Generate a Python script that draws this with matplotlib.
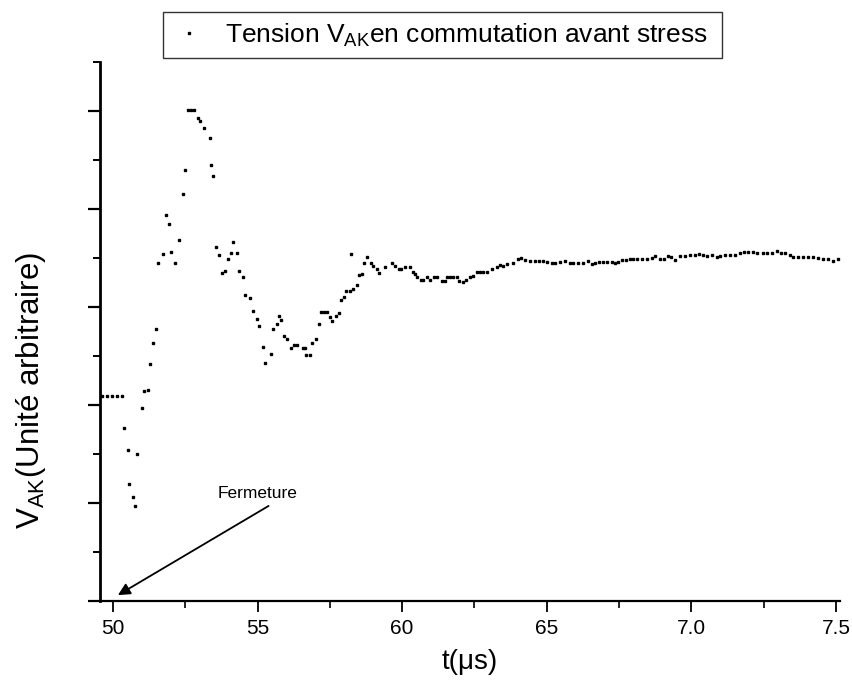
import matplotlib
matplotlib.use("Agg")
import matplotlib.pyplot as plt
from matplotlib.ticker import MultipleLocator, FixedLocator, FixedFormatter

plt.rcParams['font.family'] = ['Liberation Sans', 'DejaVu Sans']

# time (µs) and V_AK (arbitrary units)
t_us = [4.962, 4.979, 4.997, 5.014, 5.031, 5.038, 5.052, 5.055, 5.069, 5.076,
        5.083, 5.100, 5.107, 5.121, 5.128, 5.138, 5.149, 5.156, 5.173, 5.183,
        5.194, 5.201, 5.214, 5.228, 5.242, 5.249, 5.259, 5.270, 5.280, 5.294,
        5.301, 5.315, 5.335, 5.339, 5.346, 5.356, 5.367, 5.377, 5.387, 5.398,
        5.408, 5.415, 5.429, 5.436, 5.450, 5.456, 5.474, 5.484, 5.498, 5.505,
        5.519, 5.526, 5.546, 5.553, 5.567, 5.574, 5.581, 5.591, 5.602, 5.616,
        5.626, 5.636, 5.657, 5.664, 5.667, 5.681, 5.688, 5.702, 5.712, 5.719,
        5.730, 5.740, 5.750, 5.757, 5.771, 5.782, 5.788, 5.799, 5.806, 5.820,
        5.823, 5.830, 5.844, 5.851, 5.861, 5.868, 5.878, 5.892, 5.899, 5.913,
        5.920, 5.941, 5.965, 5.975, 5.989, 5.996, 6.010, 6.027, 6.037, 6.044,
        6.051, 6.065, 6.072, 6.086, 6.096, 6.110, 6.120, 6.138, 6.148, 6.155,
        6.165, 6.176, 6.190, 6.196, 6.210, 6.221, 6.235, 6.245, 6.259, 6.269,
        6.279, 6.293, 6.311, 6.328, 6.338, 6.349, 6.362, 6.383, 6.400, 6.411,
        6.425, 6.442, 6.459, 6.473, 6.487, 6.501, 6.518, 6.528, 6.546, 6.563,
        6.580, 6.591, 6.608, 6.625, 6.643, 6.656, 6.667, 6.681, 6.694, 6.708,
        6.726, 6.736, 6.746, 6.760, 6.774, 6.788, 6.798, 6.812, 6.829, 6.847,
        6.864, 6.874, 6.892, 6.905, 6.919, 6.930, 6.943, 6.961, 6.978, 6.995,
        7.013, 7.026, 7.040, 7.054, 7.071, 7.089, 7.099, 7.116, 7.134, 7.151,
        7.168, 7.182, 7.196, 7.213, 7.227, 7.248, 7.262, 7.279, 7.296, 7.310,
        7.324, 7.341, 7.352, 7.369, 7.386, 7.403, 7.421, 7.438, 7.455, 7.473,
        7.490, 7.507]
v_ak = [2.09, 2.09, 2.09, 2.09, 2.09, 1.77, 1.54, 1.19, 1.06, 0.97,
        1.50, 1.97, 2.14, 2.15, 2.42, 2.63, 2.78, 3.45, 3.54, 3.94,
        3.85, 3.56, 3.45, 3.68, 4.15, 4.40, 5.01, 5.01, 5.01, 4.93,
        4.90, 4.83, 4.72, 4.45, 4.34, 3.61, 3.53, 3.35, 3.37, 3.49,
        3.55, 3.66, 3.55, 3.37, 3.31, 3.12, 3.09, 2.96, 2.88, 2.81,
        2.59, 2.43, 2.52, 2.78, 2.83, 2.91, 2.87, 2.70, 2.67, 2.58,
        2.61, 2.61, 2.58, 2.58, 2.51, 2.51, 2.63, 2.67, 2.83, 2.95,
        2.95, 2.95, 2.90, 2.86, 2.91, 2.94, 3.07, 3.10, 3.16, 3.16,
        3.54, 3.18, 3.22, 3.33, 3.34, 3.45, 3.51, 3.45, 3.42, 3.39,
        3.35, 3.41, 3.45, 3.42, 3.39, 3.39, 3.41, 3.41, 3.36, 3.34,
        3.31, 3.28, 3.28, 3.31, 3.28, 3.31, 3.31, 3.27, 3.27, 3.31,
        3.31, 3.31, 3.31, 3.27, 3.26, 3.28, 3.31, 3.32, 3.36, 3.36,
        3.36, 3.36, 3.39, 3.41, 3.43, 3.42, 3.44, 3.45, 3.49, 3.50,
        3.48, 3.47, 3.47, 3.47, 3.47, 3.46, 3.45, 3.45, 3.46, 3.47,
        3.45, 3.45, 3.45, 3.45, 3.47, 3.44, 3.45, 3.46, 3.46, 3.46,
        3.46, 3.45, 3.46, 3.48, 3.48, 3.49, 3.49, 3.49, 3.49, 3.49,
        3.50, 3.52, 3.49, 3.49, 3.52, 3.51, 3.48, 3.52, 3.52, 3.53,
        3.53, 3.54, 3.53, 3.52, 3.53, 3.51, 3.52, 3.53, 3.53, 3.53,
        3.55, 3.56, 3.56, 3.56, 3.55, 3.55, 3.55, 3.55, 3.57, 3.55,
        3.55, 3.53, 3.51, 3.51, 3.51, 3.51, 3.51, 3.50, 3.49, 3.49,
        3.47, 3.49]

x_ticks = [5.0, 5.5, 6.0, 6.5, 7.0, 7.5]
x_tick_labels = ["50", "55", "60", "65", "7.0", "7.5"]

fig = plt.figure(figsize=(8.53, 6.92), dpi=100)
ax = fig.add_axes([0.1172, 0.1315, 0.8676, 0.7789])

ax.plot(t_us, v_ak, linestyle='none', marker='s', markersize=2.0,
        color='black', label='Tension V$\\mathregular{_{AK}}$en commutation avant stress')

ax.set_xlim(4.955, 7.514)
ax.set_ylim(0, 5.5)

ax.spines['top'].set_visible(False)
ax.spines['right'].set_visible(False)
ax.spines['left'].set_linewidth(2.0)
ax.spines['bottom'].set_linewidth(1.6)

ax.xaxis.set_major_locator(FixedLocator(x_ticks))
ax.xaxis.set_major_formatter(FixedFormatter(x_tick_labels))
ax.xaxis.set_minor_locator(MultipleLocator(0.25))
ax.yaxis.set_major_locator(MultipleLocator(1))
ax.yaxis.set_minor_locator(MultipleLocator(0.5))
ax.set_yticklabels([])
ax.tick_params(axis='x', which='major', direction='out', length=8, width=1.3,
               labelsize=15, pad=5)
ax.tick_params(axis='x', which='minor', direction='out', length=5, width=1.2)
ax.tick_params(axis='y', which='major', direction='out', length=9, width=1.6)
ax.tick_params(axis='y', which='minor', direction='out', length=5, width=1.4)

ax.set_xlabel('t(μs)', fontsize=20, labelpad=8)
ax.set_ylabel('V$\\mathregular{_{AK}}$(Unité arbitraire)', fontsize=22.5)
ax.yaxis.set_label_coords(-0.07, 0.39)

# label + arrow pointing to the switching instant
ax.text(5.50, 1.10, 'Fermeture', fontsize=12.5, ha='center', va='center')
ax.annotate('', xy=(5.017, 0.06), xytext=(5.538, 0.97),
            arrowprops=dict(arrowstyle='-|>', color='black', lw=1.3,
                            shrinkA=0, shrinkB=0, mutation_scale=18))

leg = ax.legend(loc='center left', bbox_to_anchor=(0.191, 0.913, 0.655, 0.0725),
                bbox_transform=fig.transFigure, mode='expand', fancybox=False,
                fontsize=19, markerscale=1.0, handlelength=1.3, handletextpad=0.7,
                borderpad=0.35, borderaxespad=0)
leg.get_frame().set_edgecolor('black')
leg.get_frame().set_linewidth(1.0)

plt.savefig('out.png', dpi=100)
